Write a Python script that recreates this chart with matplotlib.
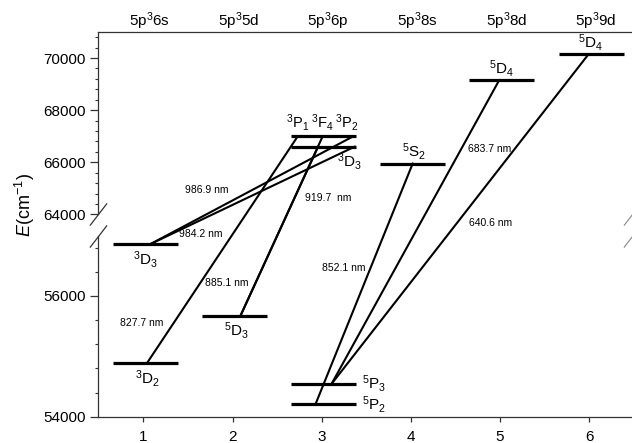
import matplotlib
matplotlib.use("Agg")
import matplotlib.pyplot as plt
import numpy as np
from matplotlib.ticker import FixedLocator, FormatStrFormatter

plt.rcParams['font.family'] = ['Liberation Sans', 'DejaVu Sans']
plt.rcParams['mathtext.fontset'] = 'custom'
plt.rcParams['mathtext.rm'] = 'Liberation Sans'
plt.rcParams['mathtext.it'] = 'Liberation Sans:italic'

# configurations along the top
configs = ['5p$^3$6s', '5p$^3$5d', '5p$^3$6p', '5p$^3$8s', '5p$^3$8d', '5p$^3$9d']
config_x = [1, 2, 3, 4, 5, 6]

# energy levels (cm-1)
level_x = [1, 1, 2, 3, 3, 3, 3, 4, 5, 6]
level_E = [56860, 54885, 55674, 66990, 66600, 54542, 54205, 65950, 69150, 70140]
level_names = ['$^3$D$_3$', '$^3$D$_2$', '$^5$D$_3$', '', '$^3$D$_3$',
               '$^5$P$_3$', '$^5$P$_2$', '$^5$S$_2$', '$^5$D$_4$', '$^5$D$_4$']
cluster_names = ['$^3$P$_1$', '$^3$F$_4$', '$^3$P$_2$']
cluster_x = [2.73, 3.01, 3.28]

# transitions: lower end -> upper end
tr_x0 = [1.08, 1.08, 1.04, 2.09, 2.09, 2.93, 3.11, 3.11]
tr_E0 = [56860, 56860, 54885, 55674, 55674, 54205, 54542, 54542]
tr_x1 = [3.35, 3.37, 2.73, 3.01, 2.96, 4.02, 4.99, 5.99]
tr_E1 = [66990, 66600, 66990, 66990, 66600, 65950, 69150, 70140]

wl_labels = ['986.9 nm', '984.2 nm', '827.7 nm', '885.1 nm', '919.7  nm',
             '852.1 nm', '683.7 nm', '640.6 nm']
wl_x = [1.71, 1.64, 0.98, 1.94, 3.07, 3.25, 4.88, 4.89]
wl_E = [64930, 57490, 55553, 56215, 64626, 56464, 66507, 61130]

# broken axis: piecewise linear energy scale
brk_E = [54000, 57000, 64000, 71000]
brk_u = [0.0, 181.05, 202.25, 384.6]


def fwd(e):
    return np.interp(e, brk_E, brk_u)


def inv(u):
    return np.interp(u, brk_u, brk_E)


fig = plt.figure(figsize=(6.32, 4.43), dpi=100)
ax = fig.add_axes([98 / 632, 1 - 416.7 / 443, 534 / 632, 384.7 / 443])
ax.set_yscale('function', functions=(fwd, inv))
ax.set_xlim(0.492, 6.479)
ax.set_ylim(54000, 71000)

# levels
for x, e in zip(level_x, level_E):
    ax.plot([x - 0.345, x + 0.385], [e, e], color='black', lw=2.3, solid_capstyle='butt')

# transitions
for a, b, c, d in zip(tr_x0, tr_E0, tr_x1, tr_E1):
    ax.plot([a, c], [b, d], color='black', lw=1.5)

for s, x, e in zip(wl_labels, wl_x, wl_E):
    ax.text(x, e, s, fontsize=7.5, ha='center', va='center')

# level labels
below = [0, 1, 2, 4]
above = [7, 8, 9]
right = [5, 6]
lab_dx = {0: 0.03, 1: 0.05, 2: 0.05, 4: 0.31, 7: 0.04, 8: 0.02, 9: 0.02}
for i in below:
    ax.annotate(level_names[i], (level_x[i] + lab_dx[i], level_E[i]),
                xytext=(0, -11), textcoords='offset points',
                ha='center', va='center', fontsize=11)
for i in above:
    ax.annotate(level_names[i], (level_x[i] + lab_dx[i], level_E[i]),
                xytext=(0, 8.5), textcoords='offset points',
                ha='center', va='center', fontsize=11)
for i in right:
    ax.annotate(level_names[i], (3.45, level_E[i]),
                xytext=(0, 0), textcoords='offset points',
                ha='left', va='center', fontsize=11)
for s, x in zip(cluster_names, cluster_x):
    ax.annotate(s, (x, level_E[3]), xytext=(0, 10), textcoords='offset points',
                ha='center', va='center', fontsize=10.5)

# configuration names above the frame
for s, x in zip(configs, config_x):
    ax.annotate(s, (x + 0.07, 1.0), xycoords=('data', 'axes fraction'),
                xytext=(0, 4.5), textcoords='offset points',
                ha='center', va='baseline', fontsize=11)

# spines
ax.spines['right'].set_visible(False)
ax.spines['left'].set_visible(False)
for sp in ['top', 'bottom']:
    ax.spines[sp].set_color('#333333')
    ax.spines[sp].set_linewidth(0.9)
yt = ax.get_yaxis_transform()
ax.plot([0, 0], [54000, 57000], transform=yt, color='#333333', lw=0.9, clip_on=False)
ax.plot([0, 0], [64000, 71000], transform=yt, color='#333333', lw=0.9, clip_on=False)
mk = [(-1, -1.3), (1, 1.3)]
ax.plot([0, 0], [64000, 57000], transform=yt, ls='none', marker=mk, markersize=16,
        mec='#333333', mew=0.9, clip_on=False)
ax.plot([1, 1], [64000, 57000], transform=yt, ls='none', marker=mk, markersize=16,
        mec='#888888', mew=0.8, clip_on=False)

# ticks
ax.set_xticks(config_x)
ax.yaxis.set_major_locator(FixedLocator([54000, 56000, 64000, 66000, 68000, 70000]))
ax.yaxis.set_minor_locator(FixedLocator(list(range(54000, 57000, 400)) +
                                        list(range(64000, 71001, 400))))
ax.yaxis.set_major_formatter(FormatStrFormatter('%d'))
ax.tick_params(axis='y', which='major', direction='out', length=5.5, width=0.9,
               pad=3.5, labelsize=11, color='#333333')
ax.tick_params(axis='y', which='minor', direction='out', length=2.5, width=0.8,
               color='#333333')
ax.tick_params(axis='x', which='major', direction='out', length=3.6, width=0.9,
               pad=6, labelsize=11, color='#333333', top=False)

fig.text(25 / 632, 1 - 205 / 443, '$E$(cm$^{-1}$)', rotation=90,
         ha='center', va='center', fontsize=13)

fig.savefig('out.png', dpi=100)
